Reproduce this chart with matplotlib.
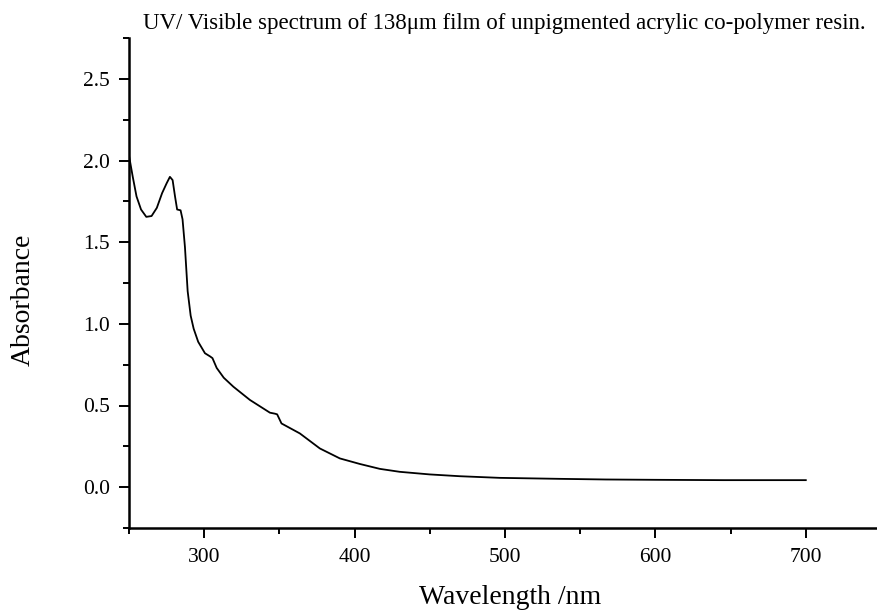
import matplotlib
matplotlib.use("Agg")
import matplotlib.pyplot as plt
from matplotlib.ticker import MultipleLocator, FormatStrFormatter

# Data
wavelength = [250, 252.5, 255, 258, 261.5, 265, 268.5, 272, 275, 277.2, 279, 280.6,
              282, 284.3, 285.6, 287.2, 289, 291, 293, 296, 300.5, 304, 305.5, 308.3,
              313, 319.4, 330.4, 343.7, 347, 348.5, 351.4, 363.6, 376.9, 390.2,
              403.5, 416.8, 430, 450, 470, 496.5, 536, 567, 600, 645, 700]
absorbance = [2.03, 1.90, 1.78, 1.70, 1.655, 1.66, 1.71, 1.80, 1.86, 1.90, 1.88, 1.78,
              1.70, 1.695, 1.64, 1.47, 1.20, 1.05, 0.97, 0.89, 0.82, 0.80, 0.79, 0.73,
              0.67, 0.615, 0.534, 0.456, 0.45, 0.446, 0.39, 0.329, 0.237, 0.176,
              0.142, 0.112, 0.094, 0.078, 0.067, 0.057, 0.051, 0.047, 0.045, 0.043, 0.043]

title = "UV/ Visible spectrum of 138\u03bcm film of unpigmented acrylic co-polymer resin."
xlabel = "Wavelength /nm"
ylabel = "Absorbance"

plt.rcParams['font.family'] = ['Liberation Serif', 'DejaVu Serif']

fig = plt.figure(figsize=(8.78, 6.10), dpi=100)
ax = fig.add_axes([129/878, 1 - 528/610, (881-129)/878, (528-38)/610])
ax.plot(wavelength, absorbance, color='black', lw=1.3)

ax.set_xlim(250, 750)
ax.set_ylim(-0.25, 2.75)
ax.xaxis.set_major_locator(MultipleLocator(100))
ax.xaxis.set_minor_locator(MultipleLocator(50))
ax.yaxis.set_major_locator(MultipleLocator(0.5))
ax.yaxis.set_minor_locator(MultipleLocator(0.25))
ax.yaxis.set_major_formatter(FormatStrFormatter('%.1f'))

for s in ['top', 'right']:
    ax.spines[s].set_visible(False)
for s in ['left', 'bottom']:
    ax.spines[s].set_linewidth(1.8)
    ax.spines[s].set_clip_on(False)

ax.tick_params(which='major', direction='out', length=7.5, width=1.4, labelsize=15.5, pad=6)
ax.tick_params(which='minor', direction='out', length=4, width=1.4)
ax.tick_params(axis='x', which='major', pad=7)

fig.text(510/878, 1 - 597/610, xlabel, ha='center', va='center', fontsize=20)
fig.text(23/878, 1 - 300/610, ylabel, ha='center', va='center', rotation=90, fontsize=20)
fig.text(143/878, 1 - 29/610, title, ha='left', va='baseline', fontsize=16.5)

fig.savefig('out.png', dpi=100)
